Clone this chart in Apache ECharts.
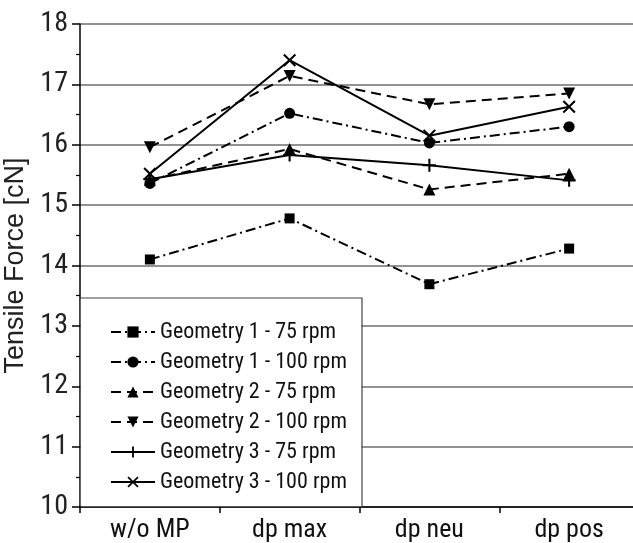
<!DOCTYPE html>
<html>
<head>
<meta charset="utf-8">
<script src="https://cdn.jsdelivr.net/npm/echarts@6/dist/echarts.min.js"></script>
<style>html,body{margin:0;padding:0;background:#fff}#c{width:633px;height:543px}</style>
</head>
<body>
<div id="c"></div>
<script>
const categories = ['w/o MP', 'dp max', 'dp neu', 'dp pos'];
const seriesNames = ['Geometry 1 - 75 rpm', 'Geometry 1 - 100 rpm', 'Geometry 2 - 75 rpm', 'Geometry 2 - 100 rpm', 'Geometry 3 - 75 rpm', 'Geometry 3 - 100 rpm'];
const geo1_75 = [14.10, 14.78, 13.69, 14.28];
const geo1_100 = [15.36, 16.52, 16.03, 16.30];
const geo2_75 = [15.42, 15.93, 15.26, 15.52];
const geo2_100 = [15.96, 17.14, 16.67, 16.85];
const geo3_75 = [15.43, 15.83, 15.66, 15.41];
const geo3_100 = [15.52, 17.40, 16.15, 16.63];
const yTicks = [10, 11, 12, 13, 14, 15, 16, 17, 18];

const PLUS = 'path://M4.2,0h1.6v4.2h4.2v1.6h-4.2v4.2h-1.6v-4.2h-4.2v-1.6h4.2z';
const CROSS = 'path://M0,1.1L1.1,0L5,3.9L8.9,0L10,1.1L6.1,5L10,8.9L8.9,10L5,6.1L1.1,10L0,8.9L3.9,5Z';
const dashDot = [10, 4, 2, 4];
const dashed = [10, 6];

const specs = [
  {data: geo1_75, symbol: 'rect', size: 10, type: dashDot},
  {data: geo1_100, symbol: 'circle', size: 11, type: dashDot},
  {data: geo2_75, symbol: 'triangle', size: 12, type: dashed},
  {data: geo2_100, symbol: 'path://M0,0L10,0L5,10Z', size: 12, type: dashed},
  {data: geo3_75, symbol: PLUS, size: 13, type: 'solid'},
  {data: geo3_100, symbol: CROSS, size: 13, type: 'solid'}
];

const chart = echarts.init(document.getElementById('c'), null, {renderer: 'canvas'});
const font = '"Liberation Sans", Arial, sans-serif';
const narrow = 'Roboto, "Liberation Sans", sans-serif';
chart.setOption({
  animation: false,
  grid: {left: 80, top: 24, width: 559, height: 483, containLabel: false, outerBoundsMode: 'none'},
  xAxis: {
    type: 'category',
    data: categories,
    boundaryGap: true,
    axisLine: {lineStyle: {color: '#000', width: 1.5}},
    axisTick: {show: true, length: 6, lineStyle: {color: '#000', width: 1.5}},
    axisLabel: {color: '#111', fontSize: 26, fontWeight: 'condensed', fontFamily: narrow, margin: 10}
  },
  yAxis: {
    type: 'value',
    min: yTicks[0], max: yTicks[yTicks.length - 1], interval: 1,
    name: 'Tensile Force [cN]',
    nameLocation: 'middle',
    nameGap: 47,
    nameTextStyle: {color: '#222', fontSize: 27, fontFamily: font},
    axisLine: {show: true, lineStyle: {color: '#000', width: 1.5}},
    axisTick: {show: true, length: 8, lineStyle: {color: '#000', width: 1.5}},
    minorTick: {show: true, splitNumber: 2, length: 4, lineStyle: {color: '#000', width: 1.2}},
    axisLabel: {color: '#222', fontSize: 28, fontWeight: 'condensed', fontFamily: narrow, margin: 12},
    splitLine: {show: true, lineStyle: {color: '#6e6e6e', width: 1.5}}
  },
  graphic: [{
    type: 'polyline', z: 5,
    shape: {points: [[80, 298], [362, 298], [362, 507]]},
    style: {stroke: '#444', lineWidth: 1.2, fill: null}
  }, {
    type: 'rect', z: 4,
    shape: {x: 80.8, y: 298.6, width: 280.6, height: 207.6},
    style: {fill: '#fff', stroke: null}
  }],
  legend: {
    z: 10,
    orient: 'vertical',
    left: 105, top: 316,
    itemWidth: 44, itemHeight: 14, itemGap: 8,
    textStyle: {color: '#111', fontSize: 22, fontWeight: 'condensed', lineHeight: 20, fontFamily: narrow, padding: [0, 0, 0, 0]},
    data: seriesNames
  },
  series: specs.map((s, i) => ({
    name: seriesNames[i],
    type: 'line',
    data: s.data,
    symbol: s.symbol,
    symbolSize: s.size,
    showAllSymbol: true,
    lineStyle: {color: '#000', width: 2, type: s.type},
    itemStyle: {color: '#000'},
    z: 3
  }))
});
</script>
</body>
</html>
